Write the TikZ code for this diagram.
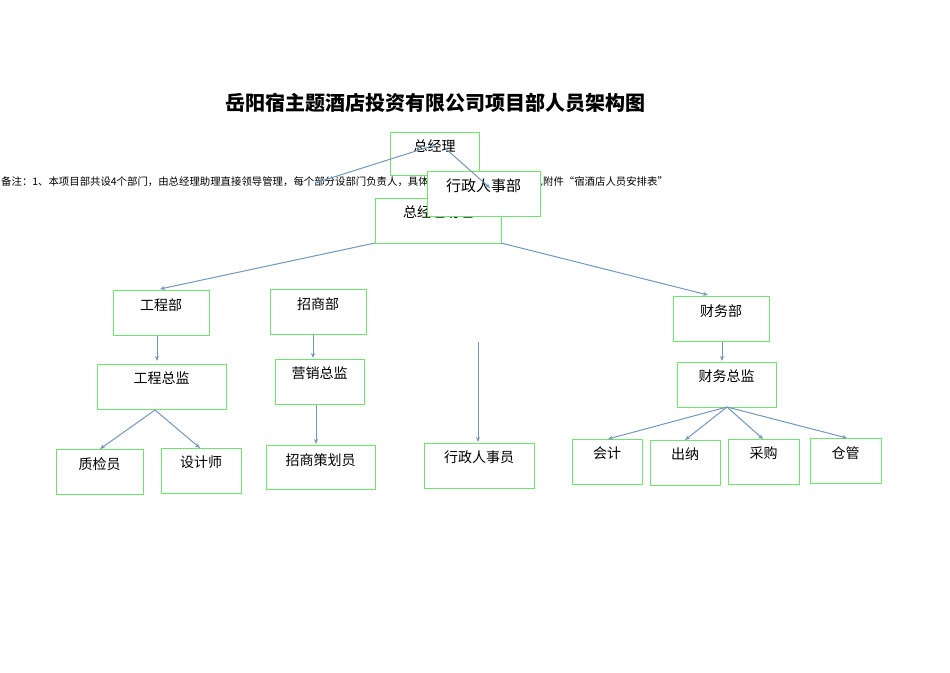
\documentclass[tikz,border=0pt]{standalone}
\usepackage{fontspec}
\setmainfont{Liberation Serif}
\newfontfamily\cjk{Noto Sans CJK SC}
\usetikzlibrary{arrows.meta}
\definecolor{gbox}{RGB}{110,230,110}
\definecolor{arr}{RGB}{115,150,185}
\begin{document}
\begin{tikzpicture}[x=1pt,y=-1pt,
  bx/.style={draw=gbox,line width=1pt,fill=white},
  lb/.style={font=\cjk\fontsize{14}{14}\selectfont,anchor=north,inner sep=0pt},
  ar/.style={draw=arr,line width=1pt,-{Stealth[length=5pt,width=4pt]}}]
\useasboundingbox (0,0) rectangle (950,672);
\node[font=\cjk\bfseries\fontsize{20}{20}\selectfont] (title) at (435,103) {岳阳宿主题酒店投资有限公司项目部人员架构图};
\node[anchor=west,inner sep=0pt,font=\cjk\fontsize{10.4}{10.4}\selectfont] (note) at (1,182) {备注：1、本项目部共设4个部门，由总经理助理直接领导管理，每个部分设部门负责人，具体人员安排以及岗位职责见附件“宿酒店人员安排表”};
% boxes
\newcommand{\bxn}[6]{\draw[bx] (#2,#3) rectangle (#4,#5); \node[lb] (#1) at ({(#2+#4)/2},{#3+8}) {#6};
  \coordinate (#1-n) at ({(#2+#4)/2},#3); \coordinate (#1-s) at ({(#2+#4)/2},#5);}
\bxn{gm}{390}{132}{479}{175}{总经理}
\bxn{ast}{375}{198}{501}{243}{总经理助理}
\bxn{hr}{427}{171}{540}{216}{\fontsize{15}{15}\selectfont 行政人事部}
\draw[ar] (435,145) -- (315,183);
\draw[ar] (445,148) -- (490,188);
\bxn{gc}{113}{290}{209}{335}{工程部}
\bxn{zs}{270}{289}{366}{334}{招商部}
\bxn{cw}{673}{296}{769}{341}{财务部}
\bxn{gczj}{97}{364}{226}{409}{工程总监}
\bxn{yx}{275}{359}{364}{404}{营销总监}
\bxn{cwzj}{677}{362}{776}{407}{财务总监}
\bxn{zj}{56}{449}{143}{494}{质检员}
\bxn{sj}{161}{448}{241}{493}{设计师}
\bxn{ch}{266}{445}{375}{489}{招商策划员}
\bxn{xz}{424}{443}{534}{488}{行政人事员}
\bxn{kj}{572}{439}{642}{484}{会计}
\bxn{cn}{650}{440}{720}{485}{出纳}
\bxn{cg}{728}{439}{799}{484}{采购}
\bxn{cgg}{810}{438}{881}{483}{仓管}
\coordinate (astl) at (375,243); \coordinate (astr) at (501,243);
\draw[ar] (astl) -- (160,289);
\draw[ar] (astr) -- (708,295);
\draw[ar] (157,336) -- (157,361);
\draw[ar] (313,335) -- (313,358);
\coordinate (xtop) at (478,342);
\draw[ar] (xtop) -- (478,442);
\draw[ar] (722,342) -- (722,361);
\draw[ar] (155,410) -- (100,449);
\draw[ar] (155,410) -- (200,448);
\draw[ar] (316,405) -- (316,444);
\draw[ar] (727,407) -- (608,439);
\draw[ar] (727,407) -- (685,440);
\draw[ar] (727,407) -- (763,439);
\draw[ar] (727,407) -- (847,438);
\end{tikzpicture}
\end{document}
